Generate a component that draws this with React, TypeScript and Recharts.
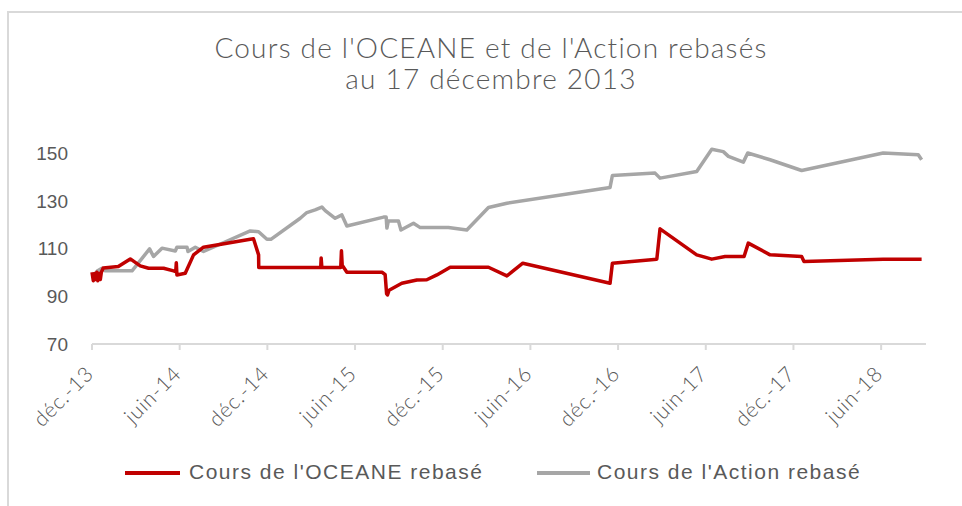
import { LineChart, Line, XAxis, YAxis } from 'recharts'

// x = months since déc.-13, y = rebased price
const oceaneT = [0, 0.09, 0.16, 0.23, 0.33, 0.4, 0.5, 0.57, 0.64, 0.77, 1.8, 2.62, 3.3, 3.87, 4.9, 5.58, 5.73, 5.77, 5.81, 6.38, 6.95, 7.63, 10.83, 11.05, 11.4, 11.41, 15.65, 15.68, 15.73, 17.02, 17.07, 17.12, 17.44, 19.86, 20.06, 20.16, 20.22, 20.33, 21.2, 22.23, 22.91, 23.6, 24.51, 27.13, 28.39, 29.48, 35.45, 35.61, 38.65, 38.87, 41.38, 42.41, 43.32, 44.62, 44.91, 46.4, 48.56, 48.72, 54.14, 56.77]
const oceaneV = [100, 96.5, 99.5, 97, 100, 96.5, 99.5, 97, 100, 101.8, 102.4, 105.6, 102.7, 101.7, 101.7, 100.6, 100.3, 104, 98.9, 99.6, 107.3, 110.5, 113.8, 114, 107.3, 102, 102, 106, 102, 102, 109, 103, 100, 100, 99, 91, 90.5, 92.5, 95.4, 96.8, 96.9, 98.9, 102.1, 102.1, 98.5, 103.8, 95.4, 103.8, 105.5, 118.2, 107.3, 105.5, 106.6, 106.6, 112.2, 107.3, 106.6, 104.5, 105.5, 105.5]

const actionT = [0, 0.23, 0.36, 0.68, 0.91, 2.74, 3.94, 4.21, 4.79, 5.7, 5.81, 6.5, 6.57, 7.07, 7.63, 10.83, 11.4, 11.97, 12.24, 14.25, 14.7, 15.27, 15.73, 15.96, 16.64, 17.1, 17.44, 19.95, 20.13, 20.18, 20.28, 20.97, 21.14, 22.0, 22.46, 24.39, 25.65, 27.13, 28.39, 35.45, 35.61, 38.53, 38.87, 41.38, 42.41, 43.2, 43.55, 44.57, 44.87, 46.4, 48.56, 54.14, 56.54, 56.77]
const actionV = [99.6, 99, 100.5, 101.7, 100.6, 100.6, 109.8, 106.6, 110.1, 108.9, 110.5, 110.5, 108.7, 110.5, 108.7, 117.3, 117, 113.8, 113.8, 122.6, 125, 126.1, 127.3, 125.8, 122.6, 124, 119.4, 123.1, 123.1, 118.5, 121.5, 121.5, 117.7, 120.5, 118.7, 118.7, 117.7, 127.1, 128.9, 135.5, 140.5, 141.5, 139.4, 142.2, 151.5, 150.5, 148.5, 146.1, 149.9, 147.1, 142.6, 149.9, 149.2, 147.1]

const xTicks = [0, 6, 12, 18, 24, 30, 36, 42, 48, 54]
const xLabels = ['déc.-13', 'juin-14', 'déc.-14', 'juin-15', 'déc.-15', 'juin-16', 'déc.-16', 'juin-17', 'déc.-17', 'juin-18']
const yTicks = [70, 90, 110, 130, 150]

const oceane = oceaneT.map((t, i) => ({ t, v: oceaneV[i] }))
const action = actionT.map((t, i) => ({ t, v: actionV[i] }))

const RED = '#c00000'
const GRAY = '#a6a6a6'
const TEXT = '#595959'

const XTick = ({ x, y, payload }: any) => {
  const i = xTicks.indexOf(payload.value)
  const ax = x + 3
  const ay = y + 25
  return (
    <text x={ax} y={ay} transform={`rotate(-45 ${ax} ${ay})`} textAnchor="end"
      fill={TEXT} fontFamily="Lato" fontWeight={300} fontSize={21} letterSpacing={0.8}>
      {xLabels[i]}
    </text>
  )
}

const YTick = ({ x, y, payload }: any) => (
  <g transform={`translate(${x},${y})`}>
    <text x={-24} y={0} dy={7} textAnchor="end" fill={TEXT} fontFamily="Liberation Sans" fontSize={19}>
      {payload.value}
    </text>
  </g>
)

export default function App() {
  return (
    <div style={{ position: 'absolute', left: 0, top: 0, width: 962, height: 506, overflow: 'hidden', background: '#fff' }}>
      <div style={{ position: 'absolute', left: 7, top: 11, width: 1100, height: 700, borderLeft: '2px solid #d9d9d9', borderTop: '2px solid #d9d9d9' }} />
      <div style={{
        position: 'absolute', left: 491, top: 32, transform: 'translateX(-50%)', whiteSpace: 'nowrap',
        textAlign: 'center', fontFamily: 'Lato', fontWeight: 300, fontSize: 28, letterSpacing: 1.2, lineHeight: '31px', color: TEXT
      }}>
        Cours de l'OCEANE et de l'Action rebasés<br />au 17 décembre 2013
      </div>
      <LineChart width={962} height={506} margin={{ top: 105, right: 36, bottom: 0, left: 0 }}>
        <XAxis
          type="number" dataKey="t" domain={[0, 57.07]} ticks={xTicks} interval={0}
          height={162} tickSize={6} tickMargin={0}
          axisLine={{ stroke: '#d9d9d9', strokeWidth: 2 }}
          tickLine={{ stroke: '#d9d9d9', strokeWidth: 2 }}
          tick={<XTick />}
        />
        <YAxis
          type="number" domain={[70, 170]} ticks={yTicks} width={92}
          axisLine={false} tickLine={false} tickSize={0} tickMargin={0}
          tick={YTick}
        />
        <Line data={action} dataKey="v" type="linear" stroke={GRAY} strokeWidth={3.5} dot={false} isAnimationActive={false} strokeLinejoin="round" />
        <Line data={oceane} dataKey="v" type="linear" stroke={RED} strokeWidth={3.5} dot={false} isAnimationActive={false} strokeLinejoin="round" />
      </LineChart>
      <div style={{ position: 'absolute', left: 0, top: 458, width: 962, height: 30, fontFamily: 'Liberation Sans', fontSize: 21, letterSpacing: 1.5, color: TEXT }}>
        <div style={{ position: 'absolute', left: 125, top: 13, width: 55, height: 4, background: RED }} />
        <div style={{ position: 'absolute', left: 189, top: 2, whiteSpace: 'nowrap' }}>Cours de l'OCEANE rebasé</div>
        <div style={{ position: 'absolute', left: 537, top: 13, width: 53, height: 4, background: GRAY }} />
        <div style={{ position: 'absolute', left: 597, top: 2, whiteSpace: 'nowrap' }}>Cours de l'Action rebasé</div>
      </div>
    </div>
  )
}
